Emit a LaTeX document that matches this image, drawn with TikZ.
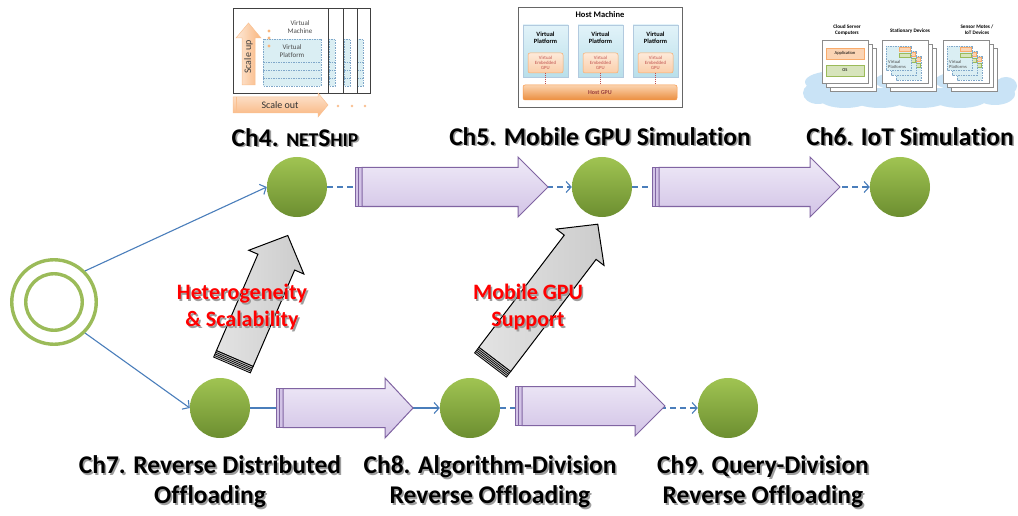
\documentclass[tikz,border=0pt]{standalone}
\usepackage{fontspec}
\setmainfont[Ligatures=NoCommon]{Carlito}
\usetikzlibrary{arrows.meta,calc}

\definecolor{ballhi}{HTML}{A0C452}
\definecolor{balllo}{HTML}{6C8E30}
\definecolor{ringgreen}{HTML}{9BBB59}
\definecolor{linkblue}{HTML}{4A7EBB}
\definecolor{flowedge}{HTML}{8064A2}
\definecolor{flowtop}{HTML}{F0EBF8}
\definecolor{flowbot}{HTML}{D2C3E6}
\definecolor{vpfill}{HTML}{DAEEF3}
\definecolor{vpedge}{HTML}{7FA7C9}
\definecolor{vptop}{HTML}{E2F3F9}
\definecolor{vpbot}{HTML}{B9DFEA}
\definecolor{orfill}{HTML}{FBD4B4}
\definecolor{oredge}{HTML}{F79646}
\definecolor{grfill}{HTML}{D7E4BC}
\definecolor{gredge}{HTML}{9BBB59}
\definecolor{cloudblue}{HTML}{C9E3F6}
\definecolor{gpured}{HTML}{C0504D}
\definecolor{gputop}{HTML}{FBD3AE}
\definecolor{gpubot}{HTML}{EB8E3F}

% text with a soft offset shadow
\newcommand\shadowed[2][black!38]{\leavevmode\rlap{\kern1.6pt\raisebox{-1.6pt}{\textcolor{#1}{#2}}}#2}
% fake small capitals for the NetShip name
\newcommand\smallcap[1]{{\fontsize{19.5}{30}\selectfont #1}}

\tikzset{
  ball/.style={circle, minimum size=60pt, inner sep=0pt, top color=ballhi, bottom color=balllo, draw=none},
  ring/.style={circle, draw=ringgreen, line width=3.4pt, inner sep=0pt},
  link/.style={draw=linkblue, line width=1.1pt, -{Straight Barb[length=5pt,width=11pt,line width=1.1pt]}},
  dashlink/.style={link, dash pattern=on 6pt off 4pt},
  chlabel/.style={font=\fontsize{25.5}{30}\selectfont\bfseries, align=center, inner sep=0pt},
  redlabel/.style={font=\fontsize{22}{27}\selectfont\bfseries, text=red, align=center, inner sep=0pt},
  flowbody/.style={draw=flowedge, line width=1pt, top color=flowtop, bottom color=flowbot, line join=miter},
  flowstripe/.style={draw=flowedge, line width=0.9pt, fill=flowbot},
  liftbody/.style={draw=black, line width=1pt, left color=gray!22, right color=gray!40, line join=miter},
  frame/.style={draw=black!75, line width=0.8pt, fill=white},
  vpbox/.style={draw=vpedge, dashed, dash pattern=on 1.5pt off 1pt, line width=0.5pt, fill=vpfill},
  vpline/.style={draw=vpedge, dash pattern=on 1.5pt off 1pt, line width=0.5pt},
  tinytext/.style={font=\fontsize{7}{7.5}\selectfont, text=black!70, align=center, inner sep=0pt},
  stackpage/.style={draw=black!45, line width=0.5pt, fill=white},
  pics/liftarrow/.style={code={
    \path[liftbody] (7,-20) -- (#1-29,-20) -- (#1-29,-30) -- (#1,0) -- (#1-29,30) -- (#1-29,20) -- (7,20) -- cycle;
    \path[draw=black, fill=gray!45, line width=0.8pt] (0,-20) rectangle (7,20);
    \foreach \s in {1.8,3.5,5.2} \draw[black, line width=0.7pt] (\s,-20) -- (\s,20);
  }}
}

% wide block arrow: left end, head start, tip, centre line
\newcommand\flowarrow[4]{%
  \path[flowstripe] (#1,#4-19.5) rectangle (#1+3.5,#4+19.5);
  \path[flowstripe] (#1+3.5,#4-19.5) rectangle (#1+7,#4+19.5);
  \path[flowbody] (#1+7,#4-19.5) -- (#2,#4-19.5) -- (#2,#4-30) -- (#3,#4)
     -- (#2,#4+30) -- (#2,#4+19.5) -- (#1+7,#4+19.5) -- cycle;}

\begin{document}
\begin{tikzpicture}[x=1pt,y=-1pt]
\useasboundingbox[fill=white] (0,0) rectangle (1018,516);

%---------------- NetShip scaling sketch ----------------
\foreach \r/\bx in {370/357, 357/344, 343/329}{
  \path[frame] (233,8) rectangle (\r,93);
  \path[vpbox] (\bx,39) rectangle (\bx+6,86);
  \foreach \yy in {62,70,78} \draw[vpline] (\bx,\yy) -- (\bx+6,\yy);
}
\path[frame] (233,8) rectangle (328,93);
\path[vpbox] (263,39) rectangle (321,86);
\foreach \yy in {62,70,78} \draw[vpline] (263,\yy) -- (321,\yy);
\node[tinytext] (vmtext) at (300,27) {Virtual\\Machine};
\node[tinytext] (vptext) at (292,51) {Virtual\\Platform};
\foreach \yy in {31,38,46} \fill[oredge!70] (269,\yy) circle (1.6);
\path[draw=oredge!60, line width=0.5pt, left color=orfill!50, right color=oredge!70]
  (242,85) -- (242,38) -- (236,38) -- (248.5,23) -- (261,38) -- (255,38) -- (255,85) -- cycle;
\node[font=\fontsize{10}{10}\selectfont, text=black!75, rotate=90, inner sep=0pt] (scaleup) at (248.5,57) {Scale up};
\path[draw=oredge!60, line width=0.5pt, top color=orfill!60, bottom color=oredge!70]
  (233,97) -- (318,97) -- (318,93) -- (328,105) -- (318,117) -- (318,113) -- (233,113) -- cycle;
\draw[oredge!60, line width=0.5pt] (236,97) -- (236,113);
\node[font=\fontsize{10}{10}\selectfont, text=black!80, inner sep=0pt] (scaleout) at (280,105) {Scale out};
\foreach \xx in {338,352,365} \fill[oredge!60] (\xx,106) circle (1.4);

%---------------- mobile GPU host sketch ----------------
\path[draw=black!60, line width=0.6pt, fill=white] (518,7) rectangle (682,107);
\node[font=\fontsize{8.5}{9}\selectfont\bfseries, inner sep=0pt] (hostm) at (600,15) {Host Machine};
\foreach \px [count=\i] in {523,578,633}{
  \path[draw=vpedge!60, line width=0.5pt, top color=vptop, bottom color=vpbot] (\px,25) rectangle (\px+45,77);
  \node[font=\fontsize{6.4}{7}\selectfont\bfseries, align=center, inner sep=0pt] (vplat\i) at (\px+22.5,37.5) {Virtual\\Platform};
  \path[draw=oredge!80, line width=0.5pt, rounded corners=2pt, top color=orfill!50, bottom color=orfill!90!oredge] (\px+5,53) rectangle (\px+40,73);
  \node[font=\fontsize{4.8}{5.3}\selectfont, text=gpured, align=center, inner sep=0pt] (vgpu\i) at (\px+22.5,63) {Virtual\\Embedded\\GPU};
  \draw[gpured, line width=0.5pt, dash pattern=on 1pt off 1pt] (\px+22.5,73) -- (\px+22.5,85);
}
\path[draw=oredge, line width=0.5pt, rounded corners=2pt, top color=gputop, bottom color=gpubot] (523,85) rectangle (677,100);
\node[font=\fontsize{6}{6}\selectfont\bfseries, text=gpured!80!black, inner sep=0pt] (hostgpu) at (600,92.5) {Host GPU};

%---------------- IoT cloud sketch ----------------
\fill[cloudblue] (818,93) ellipse (15 and 11);
\fill[cloudblue] (845,99) ellipse (25 and 9);
\fill[cloudblue] (880,98) ellipse (28 and 10);
\fill[cloudblue] (920,99) ellipse (28 and 9);
\fill[cloudblue] (960,98) ellipse (28 and 10);
\fill[cloudblue] (995,94) ellipse (20 and 11);
\fill[cloudblue] (1006,86) ellipse (11 and 9);
\fill[cloudblue] (835,82) ellipse (30 and 11);
\fill[cloudblue] (905,81) ellipse (30 and 10);
\fill[cloudblue] (965,81) ellipse (30 and 10);
\fill[cloudblue] (815,88) rectangle (1005,100);
\foreach \sx in {822,882,943}{
  \foreach \o in {8,4,0} \path[stackpage] (\sx+\o,40+\o) rectangle (\sx+46+\o,83+\o);
}
\path[draw=oredge!80, line width=0.5pt, fill=orfill] (826,48) rectangle (864,59);
\node[font=\fontsize{4.5}{5}\selectfont, inner sep=0pt] (apptext) at (845,53.5) {Application};
\path[draw=gredge, line width=0.5pt, fill=grfill] (826,65) rectangle (864,76);
\node[font=\fontsize{4.5}{5}\selectfont, inner sep=0pt] (ostext) at (845,70.5) {OS};
\foreach \sx [count=\j] in {882,943}{
  \foreach \o in {10,5,0}{
    \path[vpbox] (\sx+4+\o,46+\o) rectangle (\sx+29+\o,70+\o);
    \path[draw=oredge!80, line width=0.4pt, fill=orfill] (\sx+17+\o,47.5+\o) rectangle (\sx+28+\o,51.5+\o);
    \path[draw=gredge, line width=0.4pt, fill=grfill] (\sx+17+\o,53.5+\o) rectangle (\sx+28+\o,57.5+\o);
  }
  \node[font=\fontsize{4.5}{5}\selectfont, text=black!70, align=left, inner sep=0pt, anchor=west] (vps\j) at (\sx+6,64) {Virtual\\Platforms};
}
\node[font=\fontsize{5.2}{6}\selectfont\bfseries, align=center, inner sep=0pt] (cloudlab) at (847,30) {Cloud Server\\Computers};
\node[font=\fontsize{5.2}{6}\selectfont\bfseries, align=center, inner sep=0pt] (statlab) at (910,31) {Stationary Devices};
\node[font=\fontsize{5.2}{6}\selectfont\bfseries, align=center, inner sep=0pt] (senslab) at (977,30) {Sensor Motes /\\IoT Devices};

%---------------- roadmap ----------------
\node[ring, minimum size=84.5pt] (start) at (54,302) {};
\node[ring, minimum size=56.5pt] (startin) at (54,302) {};

\node[ball] (c4) at (297,187) {};
\node[ball] (c5) at (602,187) {};
\node[ball] (c6) at (900,187) {};
\node[ball] (c7) at (220,408) {};
\node[ball] (c8) at (470,408) {};
\node[ball] (c9) at (728,408) {};

\draw[link] (start.north east) -- (c4.west);
\draw[link] (start.south east) -- (c7.west);
\draw[dashlink] (c4) -- (c5);
\draw[dashlink] (c5) -- (c6);
\draw[link] (c7) -- (c8);
\draw[dashlink] (c8) -- (c9);

\flowarrow{355}{518}{548}{187}
\flowarrow{652}{810}{840}{187}
\flowarrow{276}{385}{413}{408}
\flowarrow{515}{635}{665}{406}

\pic[shift={(232,365)}, rotate=66.7] (lift1) {liftarrow=141};
\pic[shift={(490.5,365)}, rotate=52.7] (lift2) {liftarrow=177};

\node[redlabel] (hs) at (242,308) {\shadowed{Heterogeneity}\\\shadowed{\& Scalability}};
\node[redlabel] (mg) at (528,308) {\shadowed{Mobile GPU}\\\shadowed{Support}};

\node[chlabel] (l4) at (295,138) {\shadowed{Ch4. \smallcap{NET}S\smallcap{HIP}}};
\node[chlabel] (l5) at (600,137) {\shadowed{Ch5. Mobile GPU Simulation}};
\node[chlabel] (l6) at (910,137) {\shadowed{Ch6. IoT Simulation}};
\node[chlabel] (l7) at (210,483) {\shadowed{Ch7. Reverse Distributed}\\\shadowed{Offloading}};
\node[chlabel] (l8) at (490,483) {\shadowed{Ch8. Algorithm-Division}\\\shadowed{Reverse Offloading}};
\node[chlabel] (l9) at (763,483) {\shadowed{Ch9. Query-Division}\\\shadowed{Reverse Offloading}};
\end{tikzpicture}
\end{document}
